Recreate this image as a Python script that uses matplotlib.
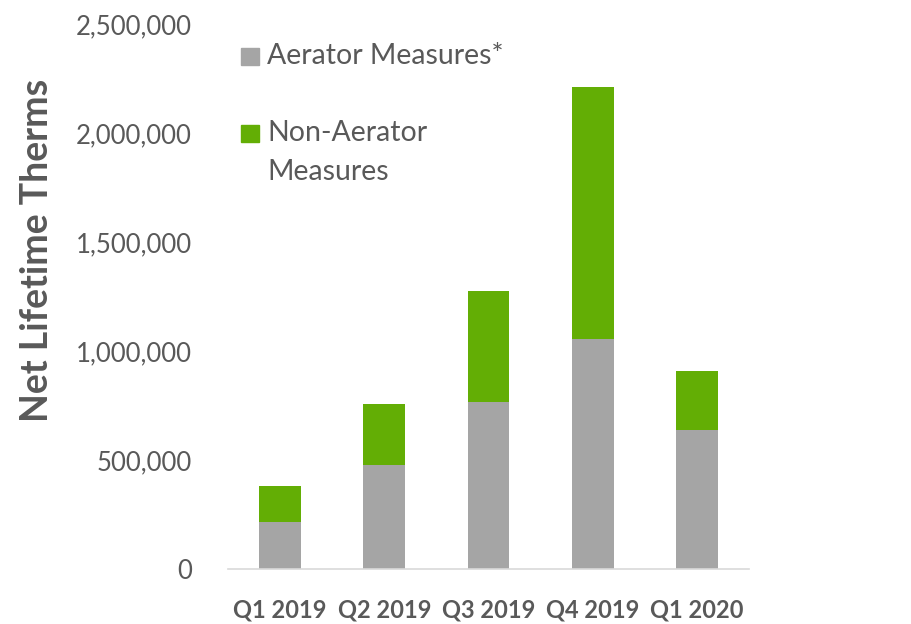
import numpy as np
import matplotlib.pyplot as plt
from matplotlib.patches import Rectangle
from matplotlib.ticker import FuncFormatter

# values
quarters = ['Q1 2019', 'Q2 2019', 'Q3 2019', 'Q4 2019', 'Q1 2020']
aerator = [214000, 477000, 766000, 1055000, 636000]
non_aerator = [165000, 281000, 509000, 1156000, 272000]

gray = '#A5A5A5'
green = '#63AE05'
txt = '#595959'

plt.rcParams['font.family'] = ['Lato', 'DejaVu Sans']

W, H = 911, 624
fig = plt.figure(figsize=(W / 100, H / 100), dpi=100)

# pixel helpers for the layout
def fx(px):
    return px / W

def fy(py):
    return 1 - py / H

ax = fig.add_axes([fx(228), fy(569), fx(749) - fx(228), fy(24) - fy(569)])

x = np.arange(len(quarters))
ax.bar(x, aerator, width=0.4, color=gray, zorder=2)
ax.bar(x, non_aerator, width=0.4, bottom=aerator, color=green, zorder=2)

ax.set_xlim(-0.5, len(quarters) - 0.5)
ax.set_ylim(0, 2500000)
ax.set_yticks(np.arange(0, 2500001, 500000))
ax.yaxis.set_major_formatter(FuncFormatter(lambda v, p: f'{int(v):,}'))
ax.set_xticks(x)
ax.set_xticklabels(quarters, fontsize=17, fontweight='bold', color=txt)
ax.tick_params(axis='y', length=0, pad=26, labelsize=18.5, labelcolor=txt)
ax.tick_params(axis='x', length=0, pad=21)

for s in ['left', 'right', 'top']:
    ax.spines[s].set_visible(False)
ax.spines['bottom'].set_color('#D9D9D9')
ax.spines['bottom'].set_linewidth(1.2)

fig.text(fx(37), fy(250), 'Net Lifetime Therms', rotation=90, ha='center',
         va='center', fontsize=27, fontweight='bold', color=txt)

# legend, drawn by hand so the handle sits by the first line
fig.patches.append(Rectangle((fx(241), fy(64.5)), fx(18), 16 / H,
                             transform=fig.transFigure, color=gray))
fig.patches.append(Rectangle((fx(241), fy(142)), fx(18), 17 / H,
                             transform=fig.transFigure, color=green))
fig.text(fx(267), fy(64), 'Aerator Measures*', fontsize=20.5, color=txt,
         va='baseline')
fig.text(fx(267), fy(141), 'Non-Aerator', fontsize=20.5, color=txt,
         va='baseline')
fig.text(fx(267), fy(180), 'Measures', fontsize=20.5, color=txt,
         va='baseline')

plt.savefig('out.png', dpi=100)
